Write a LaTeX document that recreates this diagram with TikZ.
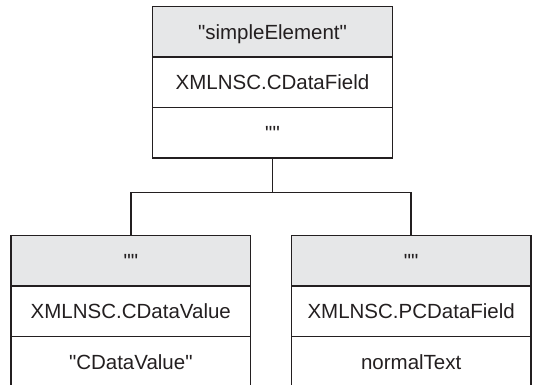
\documentclass[tikz,border=0pt]{standalone}
\usepackage{fontspec}
\newfontfamily\lsans{Liberation Sans}
\definecolor{hdr}{HTML}{E6E7E8}
\definecolor{ink}{HTML}{231F20}
\begin{document}
\begin{tikzpicture}[x=1pt,y=-1pt,
  cell/.style={draw=ink, line width=1.4pt, minimum width=239.6pt, minimum height=50.4pt,
    inner sep=0pt, outer sep=0pt, text height=14.7pt, text depth=0pt, text=ink,
    font=\lsans\fontsize{20.5}{24}\selectfont, anchor=north},
  hcell/.style={cell, fill=hdr},
  conn/.style={draw=ink, line width=1.6pt}]
\useasboundingbox (0,0) rectangle (539,385);
\clip (0,0) rectangle (539,385);
% top element
\node[hcell] (t1) at (272.5,6.7) {"simpleElement"};
\node[cell] (t2) at (t1.south) {XMLNSC.CDataField};
\node[cell] (t3) at (t2.south) {""};
% left child
\node[hcell] (l1) at (130.8,235.7) {""};
\node[cell] (l2) at (l1.south) {XMLNSC.CDataValue};
\node[cell] (l3) at (l2.south) {"CDataValue"};
% right child
\node[hcell] (r1) at (411.2,235.7) {""};
\node[cell] (r2) at (r1.south) {XMLNSC.PCDataField};
\node[cell] (r3) at (r2.south) {normalText};
% connectors
\coordinate (j) at (272.5,192.7);
\draw[conn] (t3.south) -- (j);
\draw[conn] (l1.north) |- (j) -| (r1.north);
\end{tikzpicture}
\end{document}
